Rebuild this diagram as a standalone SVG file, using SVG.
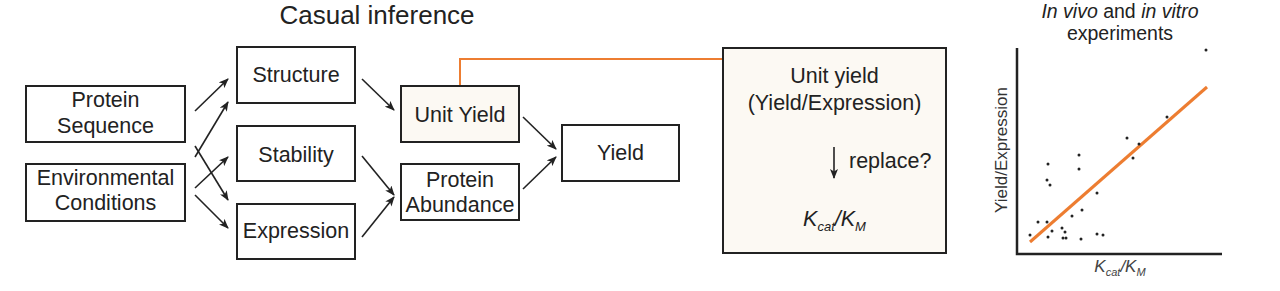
<svg xmlns="http://www.w3.org/2000/svg" width="1280" height="291" viewBox="0 0 1280 291">
<style>
text{font-family:"Liberation Sans",Arial,sans-serif;fill:#222;}
.t{font-size:21.5px;text-anchor:middle;}
.box{fill:#fff;stroke:#222;stroke-width:2;}
.hl{fill:#fcf9f3;stroke:#222;stroke-width:2;}
.ar{stroke:#222;stroke-width:1.6;fill:none;marker-end:url(#ah);}
.or{stroke:#ed7d31;fill:none;}
.dot{fill:#222;}
</style>
<defs>
<marker id="ah" viewBox="0 0 10 8" markerUnits="userSpaceOnUse" markerWidth="10" markerHeight="8" refX="9" refY="4" orient="auto">
<path d="M0,0 L10,4 L0,8 L2.5,4 z" fill="#222"/>
</marker>
</defs>
<rect width="1280" height="291" fill="#fff"/>
<text x="377" y="24" style="font-size:26px;text-anchor:middle">Casual inference</text>

<g id="connectors">
<line class="ar" x1="195" y1="111" x2="228" y2="79"/>
<line class="ar" x1="195" y1="146" x2="228" y2="200"/>
<line class="ar" x1="195" y1="157" x2="228" y2="102"/>
<line class="ar" x1="195" y1="188" x2="228" y2="157"/>
<line class="ar" x1="195" y1="195" x2="228" y2="228"/>
<line class="ar" x1="362" y1="79" x2="394" y2="110"/>
<line class="ar" x1="362" y1="156" x2="394" y2="195"/>
<line class="ar" x1="362" y1="237" x2="394" y2="197"/>
<line class="ar" x1="523" y1="117" x2="556" y2="149"/>
<line class="ar" x1="523" y1="189" x2="556" y2="157"/>
<polyline class="or" stroke-width="2" points="460,86 460,59 723,59"/>
</g>

<g id="protein-sequence">
<rect class="box" x="26" y="86" width="159" height="56"/>
<text class="t" x="105.5" y="107">Protein</text>
<text class="t" x="105.5" y="133">Sequence</text>
</g>
<g id="environmental-conditions">
<rect class="box" x="26" y="164" width="159" height="57"/>
<text class="t" x="105.5" y="185">Environmental</text>
<text class="t" x="105.5" y="210">Conditions</text>
</g>
<g id="structure">
<rect class="box" x="237" y="47" width="118" height="56"/>
<text class="t" x="296" y="82">Structure</text>
</g>
<g id="stability">
<rect class="box" x="237" y="126" width="118" height="55"/>
<text class="t" x="296" y="162">Stability</text>
</g>
<g id="expression">
<rect class="box" x="237" y="204" width="118" height="55"/>
<text class="t" x="296" y="238">Expression</text>
</g>
<g id="unit-yield">
<rect class="hl" x="401" y="86" width="118" height="56"/>
<text class="t" x="460" y="122">Unit Yield</text>
</g>
<g id="protein-abundance">
<rect class="box" x="401" y="164" width="118" height="56"/>
<text class="t" x="460" y="187">Protein</text>
<text class="t" x="460" y="212">Abundance</text>
</g>
<g id="yield">
<rect class="box" x="562" y="125" width="117" height="56"/>
<text class="t" x="620.5" y="160">Yield</text>
</g>
<g id="unit-yield-detail">
<rect class="hl" x="723" y="48" width="223" height="205"/>
<text class="t" x="834.5" y="83">Unit yield</text>
<text class="t" x="834.5" y="110">(Yield/Expression)</text>
<line class="ar" x1="834" y1="147" x2="834" y2="178"/>
<text x="849" y="168" style="font-size:21.5px">replace?</text>
<text class="t" x="834.5" y="226"><tspan font-style="italic">K</tspan><tspan font-style="italic" font-size="13" dy="5">cat</tspan><tspan font-style="italic" dy="-5">/K</tspan><tspan font-style="italic" font-size="13" dy="5">M</tspan></text>
</g>

<g id="plot">
<text x="1120" y="17.5" style="font-size:19.5px;text-anchor:middle"><tspan font-style="italic">In vivo</tspan> and <tspan font-style="italic">in vitro</tspan></text>
<text x="1120" y="40" style="font-size:19.5px;text-anchor:middle">experiments</text>
<polyline points="1017,48 1017,254 1222,254" fill="none" stroke="#222" stroke-width="2.5"/>
<text transform="translate(1007,150) rotate(-90)" style="font-size:17px;text-anchor:middle;fill:#333">Yield/Expression</text>
<text x="1120" y="272" style="font-size:17px;text-anchor:middle;fill:#444"><tspan font-style="italic">K</tspan><tspan font-style="italic" font-size="11" dy="4">cat</tspan><tspan font-style="italic" dy="-4">/K</tspan><tspan font-style="italic" font-size="11" dy="4">M</tspan></text>
<line class="or" x1="1030" y1="242" x2="1207" y2="87" stroke-width="3"/>
<g class="dot">
<circle cx="1206" cy="50" r="1.5"/><circle cx="1167" cy="117" r="1.5"/><circle cx="1127" cy="138" r="1.5"/>
<circle cx="1139" cy="144" r="1.5"/><circle cx="1133" cy="158" r="1.5"/><circle cx="1079" cy="155" r="1.5"/>
<circle cx="1079" cy="169" r="1.5"/><circle cx="1048" cy="164" r="1.5"/><circle cx="1047" cy="180" r="1.5"/>
<circle cx="1050" cy="185" r="1.5"/><circle cx="1097" cy="193" r="1.5"/><circle cx="1082" cy="210" r="1.5"/>
<circle cx="1072" cy="216" r="1.5"/><circle cx="1038" cy="222" r="1.5"/><circle cx="1047" cy="222" r="1.5"/>
<circle cx="1052" cy="231" r="1.5"/><circle cx="1062" cy="228" r="1.5"/><circle cx="1065" cy="232" r="1.5"/>
<circle cx="1030" cy="235" r="1.5"/><circle cx="1048" cy="237" r="1.5"/><circle cx="1063" cy="238" r="1.5"/>
<circle cx="1066" cy="238" r="1.5"/><circle cx="1081" cy="239" r="1.5"/><circle cx="1097" cy="234" r="1.5"/>
<circle cx="1103" cy="235" r="1.5"/>
</g>
</g>
</svg>
